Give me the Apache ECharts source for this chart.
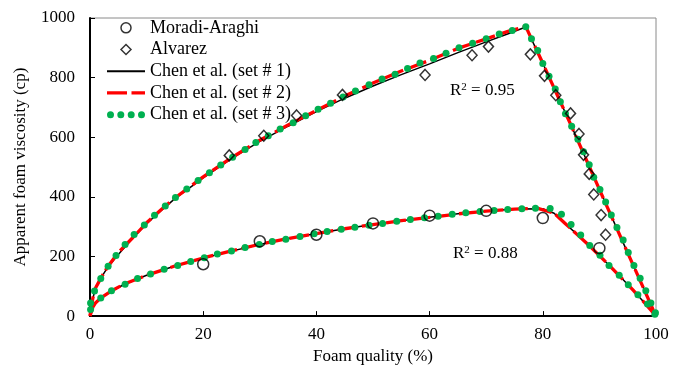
<!DOCTYPE html>
<html>
<head>
<meta charset="utf-8">
<script src="https://cdn.jsdelivr.net/npm/echarts@6/dist/echarts.min.js"></script>
<style>
  html, body { margin: 0; padding: 0; background: #fff; }
  #chart { width: 683px; height: 370px; }
</style>
</head>
<body>
<div id="chart"></div>
<script>
// measured data
const moradiX = [20, 30, 40, 50, 60, 70, 80, 90]
const moradiY = [174, 251, 273, 311, 337, 353, 329, 228]

const alvarezX = [24.6, 30.7, 36.5, 44.6, 59.2, 67.5, 70.4, 77.8, 80.3, 82.3, 84.9, 86.4, 87.2, 88.2, 89.0, 90.3, 91.1]
const alvarezY = [539, 605, 673, 742, 809, 875, 904, 878, 806, 741, 680, 611, 541, 477, 408, 339, 273]

// Chen et al. set #1 (black line)
const set1UpX = [0, 0.3, 1, 2, 3, 5, 7.5, 10, 12.5, 15, 20, 25, 30, 35, 40, 45, 50, 55, 60, 65, 70, 74, 77, 80, 85, 90, 95, 100]
const set1UpY = [0, 45, 95, 130, 160, 207, 260, 310, 353, 394, 464, 528, 586, 637, 686, 731, 772, 810, 846, 884, 920, 948, 970, 848, 640, 425, 212, 0]
const set1LoX = [0, 0.3, 1, 2, 4, 6, 10, 15, 20, 25, 30, 35, 40, 45, 50, 55, 60, 65, 70, 75, 80, 82, 84, 86, 88, 90, 92, 94, 96, 98, 100]
const set1LoY = [0, 25, 45, 62, 86, 106, 137, 168, 195, 218, 240, 260, 277, 293, 307, 320, 332, 343, 352, 359, 360, 345, 310, 275, 240, 203, 165, 126, 86, 44, 0]

// Chen et al. set #2 (red dashed)
const set2UpX = [0, 0.5, 1, 2, 3, 5, 7.5, 10, 12.5, 15, 20, 25, 30, 35, 40, 45, 50, 55, 60, 65, 70, 74, 77, 80, 85, 90, 95, 100]
const set2UpY = [0, 60, 95, 130, 162, 213, 262, 313, 356, 396, 467, 531, 590, 641, 690, 738, 782, 822, 858, 898, 930, 956, 971, 848, 640, 425, 212, 0]
const set2LoX = [0, 0.5, 1, 2, 4, 6, 10, 15, 20, 25, 30, 35, 40, 45, 50, 55, 60, 65, 70, 75, 79, 82, 84, 86, 88, 90, 92, 94, 96, 98, 100]
const set2LoY = [0, 30, 45, 62, 87, 107, 137, 168, 195, 219, 241, 260, 277, 293, 307, 320, 331, 343, 352, 359, 362, 345, 310, 275, 240, 203, 165, 126, 86, 44, 0]

// Chen et al. set #3 (green dots)
const set3UpX = [0.1, 0.8, 1.9, 3.2, 4.6, 6.2, 7.8, 9.6, 11.4, 13.3, 15.1, 17.1, 19.1, 21.1, 23.1, 25.2, 27.4, 29.3, 31.5, 33.6, 35.9, 38.1, 40.3, 42.5, 44.7, 46.9, 49.3, 51.6, 53.9, 56.1, 58.3, 60.7, 62.9, 65.2, 67.6, 70, 72.3, 74.6, 77, 78, 79.1, 80, 81.1, 82.2, 83.1, 84, 85.1, 86.2, 87.2, 88.2, 89, 90.1, 91.1, 92.1, 93.1, 94.2, 95.1, 96.1, 97.2, 98.2, 99.1, 99.8]
const set3UpY = [44, 84, 126, 167, 203, 240, 274, 306, 338, 369, 398, 426, 455, 481, 507, 533, 559, 582, 605, 628, 649, 672, 694, 714, 735, 755, 776, 795, 811, 831, 849, 864, 882, 900, 915, 930, 946, 958, 971, 930, 891, 847, 805, 762, 719, 679, 637, 593, 551, 508, 466, 425, 383, 339, 297, 255, 213, 170, 127, 85, 44, 6]
const set3LoX = [0.1, 1.9, 3.8, 6.2, 8.4, 10.7, 13.1, 15.5, 17.8, 20.2, 22.5, 25, 27.4, 29.9, 32.2, 34.6, 37.1, 39.6, 41.9, 44.4, 46.8, 49.3, 51.7, 54.2, 56.6, 59.1, 61.5, 64, 66.4, 68.9, 71.4, 73.8, 76.3, 78.7, 81.3, 83.3, 85, 86.7, 88.3, 90.1, 91.7, 93.5, 95.1, 96.8, 98.5, 99.9]
const set3LoY = [22, 61, 85, 107, 126, 141, 157, 170, 183, 196, 208, 218, 230, 240, 250, 258, 267, 276, 284, 291, 298, 305, 311, 318, 324, 330, 335, 342, 347, 351, 354, 358, 360, 362, 361, 342, 307, 272, 237, 204, 170, 137, 105, 72, 41, 11]

const xTicks = { min: 0, max: 100, interval: 20 }
const yTicks = { min: 0, max: 1000, interval: 200 }

const pairs = (xs, ys) => xs.map((x, i) => [x, ys[i]])

const FONT = '"Liberation Serif", "Times New Roman", serif'
const N1 = 'Chen et al. (set # 1)'
const N2 = 'Chen et al. (set # 2)'
const N3 = 'Chen et al. (set # 3)'

// legend icons
let dots = ''
;[3.5, 13.8, 24.2, 34.5].forEach(c => {
  dots += 'M' + (c - 3.5) + ',3.5 a3.5,3.5 0 1,0 7,0 a3.5,3.5 0 1,0 -7,0 '
})
const iconSolid = 'path://M0,0 H38 V1.8 H0 Z'
const iconDash = 'path://M0,0 H20 V3.3 H0 Z M24.5,0 H38 V3.3 H24.5 Z'
const iconDiamond = 'path://M4.5,0 L9,4.5 L4.5,9 L0,4.5 Z'
const hollow = { color: 'rgba(255,255,255,0)', borderColor: '#000', borderWidth: 1.5 }

const chart = echarts.init(document.getElementById('chart'), null, { renderer: 'canvas' })

const black = { type: 'line', name: N1, symbol: 'none', z: 2,
  lineStyle: { color: '#000', width: 1.5 }, itemStyle: { color: '#000' } }
const red = { type: 'line', name: N2, symbol: 'none', z: 3,
  lineStyle: { color: '#ff0000', width: 3.3, type: [20, 4.5] }, itemStyle: { color: '#ff0000' } }
const green = { type: 'scatter', name: N3, symbol: 'circle', symbolSize: 7, z: 4,
  itemStyle: { color: '#00b050', opacity: 1 } }

const option = {
  animation: false,
  textStyle: { fontFamily: FONT, color: '#000' },
  grid: { left: 90, right: 27, top: 18, bottom: 50, show: true, borderColor: '#8a8a8a', borderWidth: 1 },
  legend: {
    orient: 'vertical',
    left: 107,
    top: 17,
    padding: 0,
    itemGap: 0,
    itemWidth: 38,
    itemHeight: 10,
    textStyle: { fontFamily: FONT, fontSize: 18, color: '#000', lineHeight: 21.7 },
    data: [
      { name: 'Moradi-Araghi', icon: 'circle', itemStyle: hollow },
      { name: 'Alvarez', icon: iconDiamond, itemStyle: hollow },
      { name: N1, icon: iconSolid, itemStyle: { color: '#000', borderWidth: 0 } },
      { name: N2, icon: iconDash, itemStyle: { color: '#ff0000', borderWidth: 0 } },
      { name: N3, icon: 'path://' + dots, itemStyle: { color: '#00b050', borderWidth: 0 } }
    ]
  },
  xAxis: {
    type: 'value',
    min: xTicks.min, max: xTicks.max, interval: xTicks.interval,
    name: 'Foam quality (%)',
    nameLocation: 'middle',
    nameGap: 29,
    nameTextStyle: { fontFamily: FONT, fontSize: 17, color: '#000' },
    axisLine: { lineStyle: { color: '#000', width: 2 } },
    axisTick: { inside: true, length: 5, lineStyle: { color: '#000', width: 1 } },
    axisLabel: { fontFamily: FONT, fontSize: 17, color: '#000', margin: 10 },
    splitLine: { show: false }
  },
  yAxis: {
    type: 'value',
    min: yTicks.min, max: yTicks.max, interval: yTicks.interval,
    name: 'Apparent foam viscosity (cp)',
    nameLocation: 'middle',
    nameGap: 61,
    nameTextStyle: { fontFamily: FONT, fontSize: 17, color: '#000' },
    axisLine: { show: true, lineStyle: { color: '#000', width: 2 } },
    axisTick: { show: true, inside: true, length: 5, lineStyle: { color: '#000', width: 1 } },
    axisLabel: { fontFamily: FONT, fontSize: 17, color: '#000', margin: 15, formatter: v => String(v) },
    splitLine: { show: false }
  },
  graphic: [
    {
      type: 'text', left: 450, top: 82,
      style: {
        text: 'R{s|2} = 0.95',
        font: '17px ' + FONT, fill: '#000',
        rich: { s: { fontSize: 11, verticalAlign: 'top', lineHeight: 11, fontFamily: FONT } }
      }
    },
    {
      type: 'text', left: 453, top: 245,
      style: {
        text: 'R{s|2} = 0.88',
        font: '17px ' + FONT, fill: '#000',
        rich: { s: { fontSize: 11, verticalAlign: 'top', lineHeight: 11, fontFamily: FONT } }
      }
    }
  ],
  series: [
    Object.assign({}, black, { data: pairs(set1UpX, set1UpY) }),
    Object.assign({}, black, { data: pairs(set1LoX, set1LoY) }),
    Object.assign({}, red, { data: pairs(set2UpX, set2UpY) }),
    Object.assign({}, red, { data: pairs(set2LoX, set2LoY) }),
    Object.assign({}, green, { data: pairs(set3UpX, set3UpY) }),
    Object.assign({}, green, { data: pairs(set3LoX, set3LoY) }),
    {
      type: 'scatter', name: 'Moradi-Araghi', symbol: 'circle', symbolSize: 11, z: 5,
      itemStyle: hollow,
      data: pairs(moradiX, moradiY)
    },
    {
      type: 'scatter', name: 'Alvarez', symbol: 'diamond', symbolSize: [10, 11], z: 5,
      itemStyle: hollow,
      data: pairs(alvarezX, alvarezY)
    }
  ]
}

chart.setOption(option)
</script>
</body>
</html>
